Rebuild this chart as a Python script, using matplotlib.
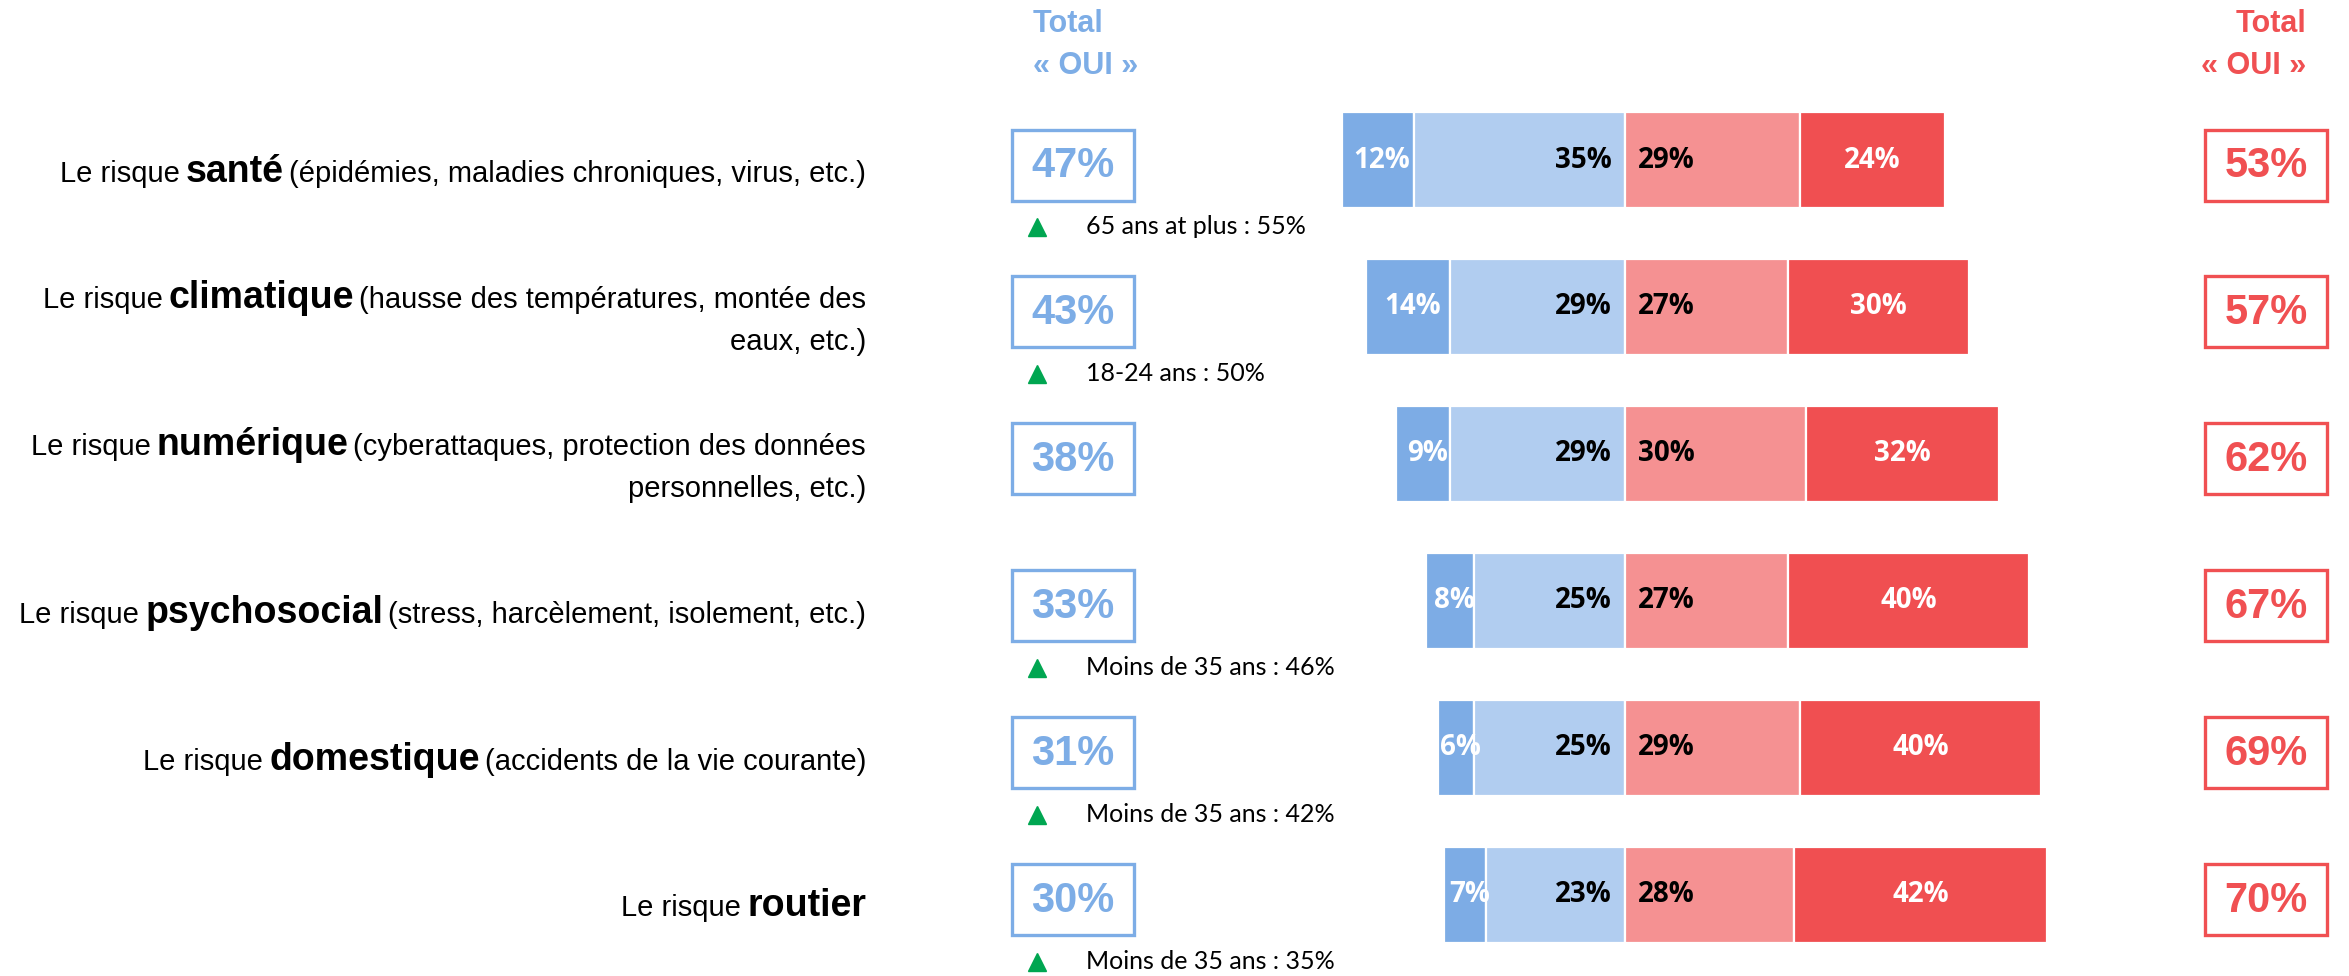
# %%
# ----------------------------------------------------------------------------------
# Import modules
# ----------------------------------------------------------------------------------
import numpy as np
import matplotlib
matplotlib.use('Agg')
import matplotlib.pyplot as plt
from matplotlib import font_manager
from matplotlib.patches import Rectangle

# %%
# ----------------------------------------------------------------------------------
# Data
# ----------------------------------------------------------------------------------
themes = ['santé', 'climatique', 'numérique', 'psychosocial', 'domestique',
          'routier']
details = ['(épidémies, maladies chroniques, virus, etc.)',
           '(hausse des températures, montée des\neaux, etc.)',
           '(cyberattaques, protection des données\npersonnelles, etc.)',
           '(stress, harcèlement, isolement, etc.)',
           '(accidents de la vie courante)',
           '']

oui_tout_a_fait = np.array([12, 14, 9, 8, 6, 7])       # dark blue
oui_plutot = np.array([35, 29, 29, 25, 25, 23])        # light blue
non_plutot = np.array([29, 27, 30, 27, 29, 28])        # light red
non_pas_du_tout = np.array([24, 30, 32, 40, 40, 42])   # dark red

total_oui = [47, 43, 38, 33, 31, 30]
total_non = [53, 57, 62, 67, 69, 70]

notes = ['65 ans at plus : 55%', '18-24 ans : 50%', '',
         'Moins de 35 ans : 46%', 'Moins de 35 ans : 42%',
         'Moins de 35 ans : 35%']

# %%
# ----------------------------------------------------------------------------------
# Styles / layout
# ----------------------------------------------------------------------------------
W, H = 2349, 976
DPI = 100
C_DB = '#7DACE5'
C_LB = '#B1CDF0'
C_LR = '#F59192'
C_DR = '#F04F51'
C_BLUE_TXT = '#7DADE6'
C_RED_TXT = '#F05052'
C_GREEN = '#00A651'

ROW0, ROW_STEP = 160, 146.9     # pixel centre of first bar row, spacing
X0, PX_PER_PCT = 1625, 6.03     # pixel of the 0 line, pixels per %
BAR_H = 96 / ROW_STEP


def pick_font(names):
    for n in names:
        try:
            font_manager.findfont(n, fallback_to_default=False)
            return n
        except ValueError:
            pass
    return 'DejaVu Sans'


F_ARIAL = pick_font(['Liberation Sans', 'Arial'])
F_BAR = pick_font(['Liberation Sans Narrow', 'Open Sans'])
F_NOTE = pick_font(['Lato', 'Open Sans'])

# %%
# ----------------------------------------------------------------------------------
# Figure and axes
# ----------------------------------------------------------------------------------
fig = plt.figure(figsize=(W / DPI, H / DPI), dpi=DPI)

# bar axes in % units
ax_b = fig.add_axes([0, 0, 1, 1])
ax_b.set_xlim(-X0 / PX_PER_PCT, (W - X0) / PX_PER_PCT)
ax_b.set_ylim((H - ROW0) / ROW_STEP, -ROW0 / ROW_STEP)
ax_b.axis('off')

# overlay axes in pixel units for labels and boxes
ax_t = fig.add_axes([0, 0, 1, 1])
ax_t.set_xlim(0, W)
ax_t.set_ylim(H, 0)
ax_t.axis('off')
ax_t.patch.set_alpha(0)

y = np.arange(len(themes))
kw = dict(height=BAR_H, edgecolor='white', linewidth=1.6)
ax_b.barh(y, oui_tout_a_fait, left=-(oui_tout_a_fait + oui_plutot),
          color=C_DB, **kw)
ax_b.barh(y, oui_plutot, left=-oui_plutot, color=C_LB, **kw)
ax_b.barh(y, non_plutot, left=0, color=C_LR, **kw)
ax_b.barh(y, non_pas_du_tout, left=non_plutot, color=C_DR, **kw)

bkw = dict(fontfamily=F_BAR, fontweight='bold', fontsize=20, va='center')
for i in y:
    db, lb, lr, dr = (oui_tout_a_fait[i], oui_plutot[i], non_plutot[i],
                      non_pas_du_tout[i])
    ax_b.text(-lb - db / 2 + 0.7, i, f'{db}%', color='white', ha='center',
              **bkw)
    ax_b.text(-2.2, i, f'{lb}%', color='black', ha='right', **bkw)
    ax_b.text(2.2, i, f'{lr}%', color='black', ha='left', **bkw)
    ax_b.text(lr + dr / 2, i, f'{dr}%', color='white', ha='center', **bkw)

# %%
# ----------------------------------------------------------------------------------
# Headers, boxes, notes
# ----------------------------------------------------------------------------------
hkw = dict(fontfamily=F_ARIAL, fontweight='bold', fontsize=22, va='center')
ax_t.text(1033, 24, 'Total', color=C_BLUE_TXT, ha='left', **hkw)
ax_t.text(1033, 66, '« OUI »', color=C_BLUE_TXT, ha='left', **hkw)
ax_t.text(2306, 24, 'Total', color=C_RED_TXT, ha='right', **hkw)
ax_t.text(2306, 66, '« OUI »', color=C_RED_TXT, ha='right', **hkw)

BOX_W, BOX_H = 122, 71
for i in y:
    yc = ROW0 + ROW_STEP * i + 5
    for xc, val, col in [(1073, total_oui[i], C_BLUE_TXT),
                         (2266, total_non[i], C_RED_TXT)]:
        ax_t.add_patch(Rectangle((xc - BOX_W / 2, yc - BOX_H / 2), BOX_W,
                                 BOX_H, fill=False, edgecolor=col,
                                 linewidth=2.4))
        ax_t.text(xc, yc + 1, f'{val}%', color=col, fontfamily=F_ARIAL,
                  fontweight='bold', fontsize=30, ha='center', va='center')
    if notes[i]:
        yn = ROW0 + ROW_STEP * i + 67
        ax_t.plot(1037, yn, marker='^', markersize=13, color=C_GREEN,
                  linestyle='none')
        ax_t.text(1086, yn, notes[i], fontfamily=F_NOTE, fontsize=18,
                  ha='left', va='center', color='black')

# %%
# ----------------------------------------------------------------------------------
# Row labels (regular + bold keyword + regular), right aligned
# ----------------------------------------------------------------------------------
fig.canvas.draw()
renderer = fig.canvas.get_renderer()
X_RIGHT = 866
LINE_GAP = 42
rkw = dict(fontfamily=F_ARIAL, fontsize=21, color='black', va='baseline')
for i in y:
    yc = ROW0 + ROW_STEP * i + 12
    lines = details[i].split('\n')
    if len(lines) == 2:
        base1 = yc - LINE_GAP / 2 + 10
        ax_t.text(X_RIGHT, yc + LINE_GAP / 2 + 10, lines[1], ha='right', **rkw)
    else:
        base1 = yc + 10
    x = X_RIGHT
    if lines[0]:
        t = ax_t.text(x, base1, lines[0], ha='right', **rkw)
        x = t.get_window_extent(renderer).x0 - 5
    t = ax_t.text(x, base1, themes[i], ha='right', fontfamily=F_ARIAL,
                  fontsize=27, fontweight='bold', color='black',
                  va='baseline')
    x = t.get_window_extent(renderer).x0 - 6
    ax_t.text(x, base1, 'Le risque', ha='right', **rkw)

fig.savefig('out.png', dpi=DPI)
